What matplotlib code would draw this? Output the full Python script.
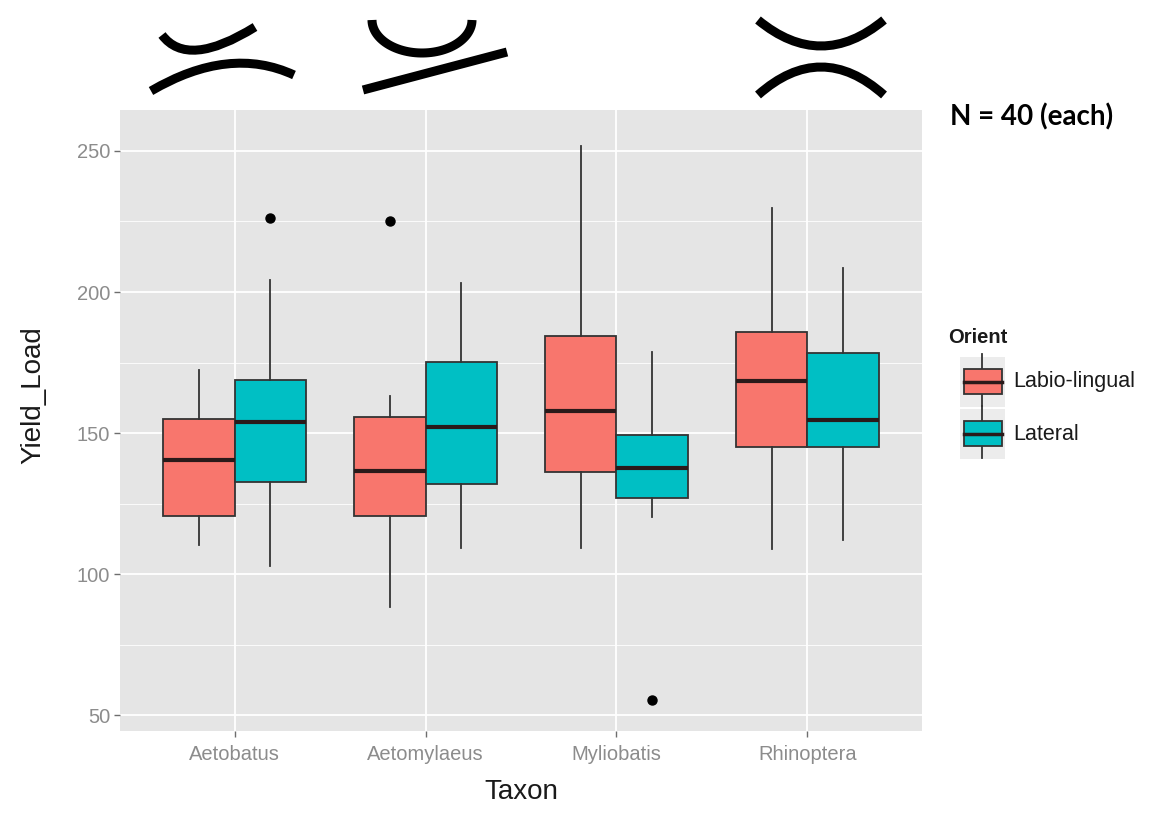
import matplotlib
matplotlib.use("Agg")
import matplotlib.pyplot as plt
import numpy as np
from matplotlib.path import Path
from matplotlib.patches import PathPatch, Rectangle

# data
taxa = ['Aetobatus', 'Aetomylaeus', 'Myliobatis', 'Rhinoptera']
orients = ['Labio-lingual', 'Lateral']
colors = ['#F8766D', '#00BFC4']

labio_whislo = [110.5, 88.3, 109.5, 108.8]
labio_q1 = [120.5, 120.5, 136.1, 145.1]
labio_med = [140.6, 136.6, 157.8, 168.6]
labio_q3 = [154.9, 155.9, 184.5, 186.0]
labio_whishi = [172.4, 163.3, 251.7, 229.8]
labio_fliers = [[], [225.0], [], []]

lateral_whislo = [103.0, 109.5, 120.2, 112.3]
lateral_q1 = [132.7, 131.9, 127.2, 145.1]
lateral_med = [153.9, 152.2, 137.6, 154.6]
lateral_q3 = [168.8, 175.4, 149.3, 178.5]
lateral_whishi = [204.2, 203.3, 178.8, 208.4]
lateral_fliers = [[226.4], [], [55.6], []]

W, H = 1151, 831
plt.rcParams['font.family'] = ['Liberation Sans', 'DejaVu Sans']

fig = plt.figure(figsize=(W / 100, H / 100), dpi=100)
fig.patch.set_facecolor('white')
ax = fig.add_axes([120 / W, 1 - 731 / H, 802 / W, 621 / H])
ax.set_facecolor('#e5e5e5')


def make_stats(lo, q1, med, q3, hi, fl):
    return [dict(whislo=lo[i], q1=q1[i], med=med[i], q3=q3[i], whishi=hi[i],
                 fliers=fl[i]) for i in range(len(taxa))]


groups = [
    make_stats(labio_whislo, labio_q1, labio_med, labio_q3, labio_whishi, labio_fliers),
    make_stats(lateral_whislo, lateral_q1, lateral_med, lateral_q3, lateral_whishi, lateral_fliers),
]

box_w = 0.375
for k, stats in enumerate(groups):
    pos = np.arange(len(taxa)) + (k - 0.5) * box_w
    ax.bxp(stats, positions=pos, widths=box_w, patch_artist=True, showcaps=False,
           boxprops=dict(facecolor=colors[k], edgecolor='#333333', linewidth=1.3),
           whiskerprops=dict(color='#333333', linewidth=1.3),
           medianprops=dict(color='#2a1a1a', linewidth=3.0),
           flierprops=dict(marker='o', markerfacecolor='black', markeredgecolor='black',
                           markersize=6.5),
           zorder=3)

ax.set_xlim(-0.6, len(taxa) - 0.4)
ax.set_ylim(44.5, 264.5)
ax.set_xticks(range(len(taxa)))
ax.set_xticklabels(taxa)
ax.set_yticks([50, 100, 150, 200, 250])
ax.set_yticks([75, 125, 175, 225], minor=True)
ax.grid(True, which='major', color='white', linewidth=1.3, zorder=0)
ax.grid(True, which='minor', axis='y', color='white', linewidth=0.6, zorder=0)
ax.set_axisbelow(True)
for s in ax.spines.values():
    s.set_visible(False)
ax.tick_params(axis='both', which='major', color='#6e6e6e', length=4, width=1,
               labelcolor='#8c8c8c', labelsize=14.5)
ax.tick_params(axis='x', pad=6)
ax.tick_params(axis='y', pad=3)
ax.tick_params(which='minor', length=0)

fig.text(521 / W, 1 - 792 / H, 'Taxon', ha='center', va='center', fontsize=20, color='#1a1a1a')
fig.text(33 / W, 1 - 395 / H, 'Yield_Load', ha='center', va='center', rotation=90,
         fontsize=20, color='#1a1a1a')

# overlay in pixel coordinates for legend and drawings
ov = fig.add_axes([0, 0, 1, 1])
ov.set_xlim(0, W)
ov.set_ylim(H, 0)
ov.axis('off')
ov.patch.set_alpha(0)

# legend
fig.text(948 / W, 1 - 337 / H, 'Orient', ha='left', va='center', fontsize=14.5,
         fontweight='bold', color='#1a1a1a')
for k, lab in enumerate(orients):
    y0 = 357 + k * 52
    ov.add_patch(Rectangle((960, y0), 45, 50, facecolor='#ececec', edgecolor='none', zorder=1))
    ov.plot([982, 982], [y0 - 3, y0 + 49], color='#333333', lw=1.3, zorder=2)
    ov.add_patch(Rectangle((964, y0 + 12), 38, 25, facecolor=colors[k],
                           edgecolor='#333333', lw=1.3, zorder=3))
    ov.plot([964, 1002], [y0 + 24.5, y0 + 24.5], color='#2a1a1a', lw=2.5, zorder=4)
    fig.text(1013 / W, 1 - (y0 + 25) / H, lab, ha='left', va='center', fontsize=15.5,
             color='#1a1a1a')

fig.text(950 / W, 1 - 117 / H, 'N = 40 (each)', ha='left', va='center', fontsize=20,
         fontweight='bold', family=['Lato', 'DejaVu Sans'], color='black')


# tooth-shape drawings above the panel
def curve(p0, mid, p2):
    c = (2 * mid[0] - 0.5 * (p0[0] + p2[0]), 2 * mid[1] - 0.5 * (p0[1] + p2[1]))
    path = Path([p0, c, p2], [Path.MOVETO, Path.CURVE3, Path.CURVE3])
    ov.add_patch(PathPatch(path, facecolor='none', edgecolor='black', lw=6.5,
                           capstyle='butt'))


curve((162, 35), (198, 50), (255, 27))
curve((151, 91), (226, 64), (294, 75))

t = np.linspace(0, np.pi, 60)
ov.plot(422 + 50 * np.cos(t), 20 + 33 * np.sin(t), color='black', lw=6.5,
        solid_capstyle='butt')
ov.plot([363, 507], [90, 52], color='black', lw=6.5, solid_capstyle='butt')

curve((758, 20), (821, 46), (884, 20))
curve((758, 95), (821, 67), (884, 95))

fig.savefig('out.png', dpi=100)
